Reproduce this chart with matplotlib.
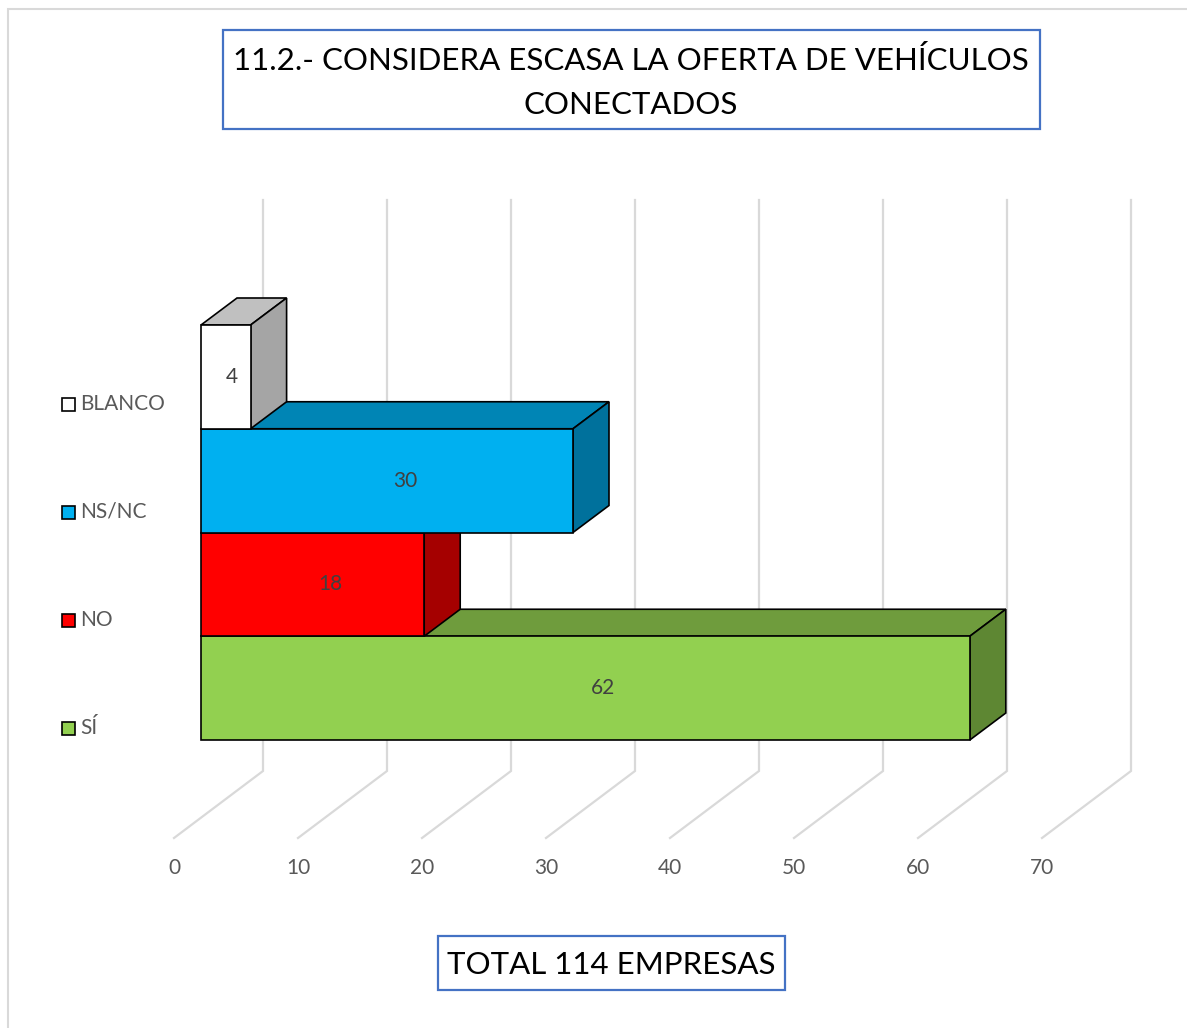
import matplotlib
matplotlib.use("Agg")
import matplotlib.pyplot as plt
from matplotlib.patches import Polygon, Rectangle

# ---------------- data ----------------
categories = ["SÍ", "NO", "NS/NC", "BLANCO"]
values = [62, 18, 30, 4]
front_colors = ["#92d050", "#ff0000", "#00b0f0", "#ffffff"]
top_colors = ["#6f9c3d", "#c00000", "#0085b5", "#c0c0c0"]
side_colors = ["#5e8733", "#a50000", "#00719c", "#a5a5a5"]
ticks = [0, 10, 20, 30, 40, 50, 60, 70]
title_lines = ["11.2.- CONSIDERA ESCASA LA OFERTA DE VEHÍCULOS", "CONECTADOS"]
footer = "TOTAL 114 EMPRESAS"

plt.rcParams['font.family'] = ['Lato', 'DejaVu Sans']

W, H = 1187, 1028
fig = plt.figure(figsize=(W / 100, H / 100), dpi=100)
ax = fig.add_axes([0, 0, 1, 1])

# scale: pixels per value unit / per category unit
PX = 12.4
X0 = 201
Y0 = 740
PY = 103.75
ax.set_xlim(-X0 / PX, (W - X0) / PX)
ax.set_ylim((Y0 - H) / PY, Y0 / PY)
ax.axis('off')


def dx(px):
    return px / PX


def dy(py):
    return py / PY


# 3D geometry (style constants)
DX, DY = dx(36), dy(27)            # bar depth
BX = dx(62)                        # back wall offset
YT, YB = dy(740 - 200), dy(740 - 771)  # back wall top / bottom
FX, YF = dx(174 - 201), dy(740 - 838)  # floor front
YL = dy(740 - 868)                 # tick label row

grid_c = "#d9d9d9"
for t in ticks:
    ax.plot([t + BX, t + BX, t + FX], [YT, YB, YF], color=grid_c, lw=1.6,
            zorder=1, solid_joinstyle='miter')
    ax.text(t + FX, YL, str(t), ha='center', va='center', color='#595959',
            fontsize=15)

# bars, drawn bottom to top
for i, (v, fc, tc, sc) in enumerate(zip(values, front_colors, top_colors, side_colors)):
    y0, y1 = i, i + 1
    z = 2 + i * 0.1
    top = Polygon([(0, y1), (DX, y1 + DY), (v + DX, y1 + DY), (v, y1)], closed=True,
                  fc=tc, ec='black', lw=1.2, zorder=z, joinstyle='miter')
    side = Polygon([(v, y0), (v + DX, y0 + DY), (v + DX, y1 + DY), (v, y1)], closed=True,
                   fc=sc, ec='black', lw=1.2, zorder=z, joinstyle='miter')
    front = Rectangle((0, y0), v, 1, fc=fc, ec='black', lw=1.2, zorder=z + 0.01,
                      joinstyle='miter')
    ax.add_patch(top)
    ax.add_patch(side)
    ax.add_patch(front)
    lx = (v + DX) / 2 if v > 2 * DX else v / 2 + 0.5
    ax.text(lx, i + 0.5, str(v), ha='center', va='center',
            color='#404040', fontsize=15, zorder=5)

# legend (left side)
for i, (cat, fc) in enumerate(zip(categories, front_colors)):
    py = 728 - 108 * i
    yc = (Y0 - py) / PY
    ax.add_patch(Rectangle((dx(62 - X0), yc - dy(6.5)), dx(13), dy(13), fc=fc,
                           ec='black', lw=1.2, zorder=5))
    ax.text(dx(80 - X0), yc, cat, ha='left', va='center', color='#595959',
            fontsize=15)

# outer chart border
fig.patches.append(Rectangle((8 / W, -0.1), 1.2, 1 - 9 / H + 0.1, transform=fig.transFigure,
                             fill=False, ec=grid_c, lw=1.5))

# title box
fig.patches.append(Rectangle((223 / W, 1 - 129 / H), (1040 - 223) / W, 99 / H,
                             transform=fig.transFigure, fill=False, ec='#4472c4', lw=1.6))
fig.text(631 / W, 1 - 60 / H, title_lines[0], ha='center', va='center', fontsize=22.5,
         color='black')
fig.text(631 / W, 1 - 105 / H, title_lines[1], ha='center', va='center', fontsize=22.5,
         color='black')

# footer box
fig.patches.append(Rectangle((438 / W, 1 - 990 / H), (785 - 438) / W, 54 / H,
                             transform=fig.transFigure, fill=False, ec='#4472c4', lw=1.6))
fig.text(611 / W, 1 - 965 / H, footer, ha='center', va='center', fontsize=22.5, color='black')

fig.savefig("out.png", dpi=100, facecolor='white')
